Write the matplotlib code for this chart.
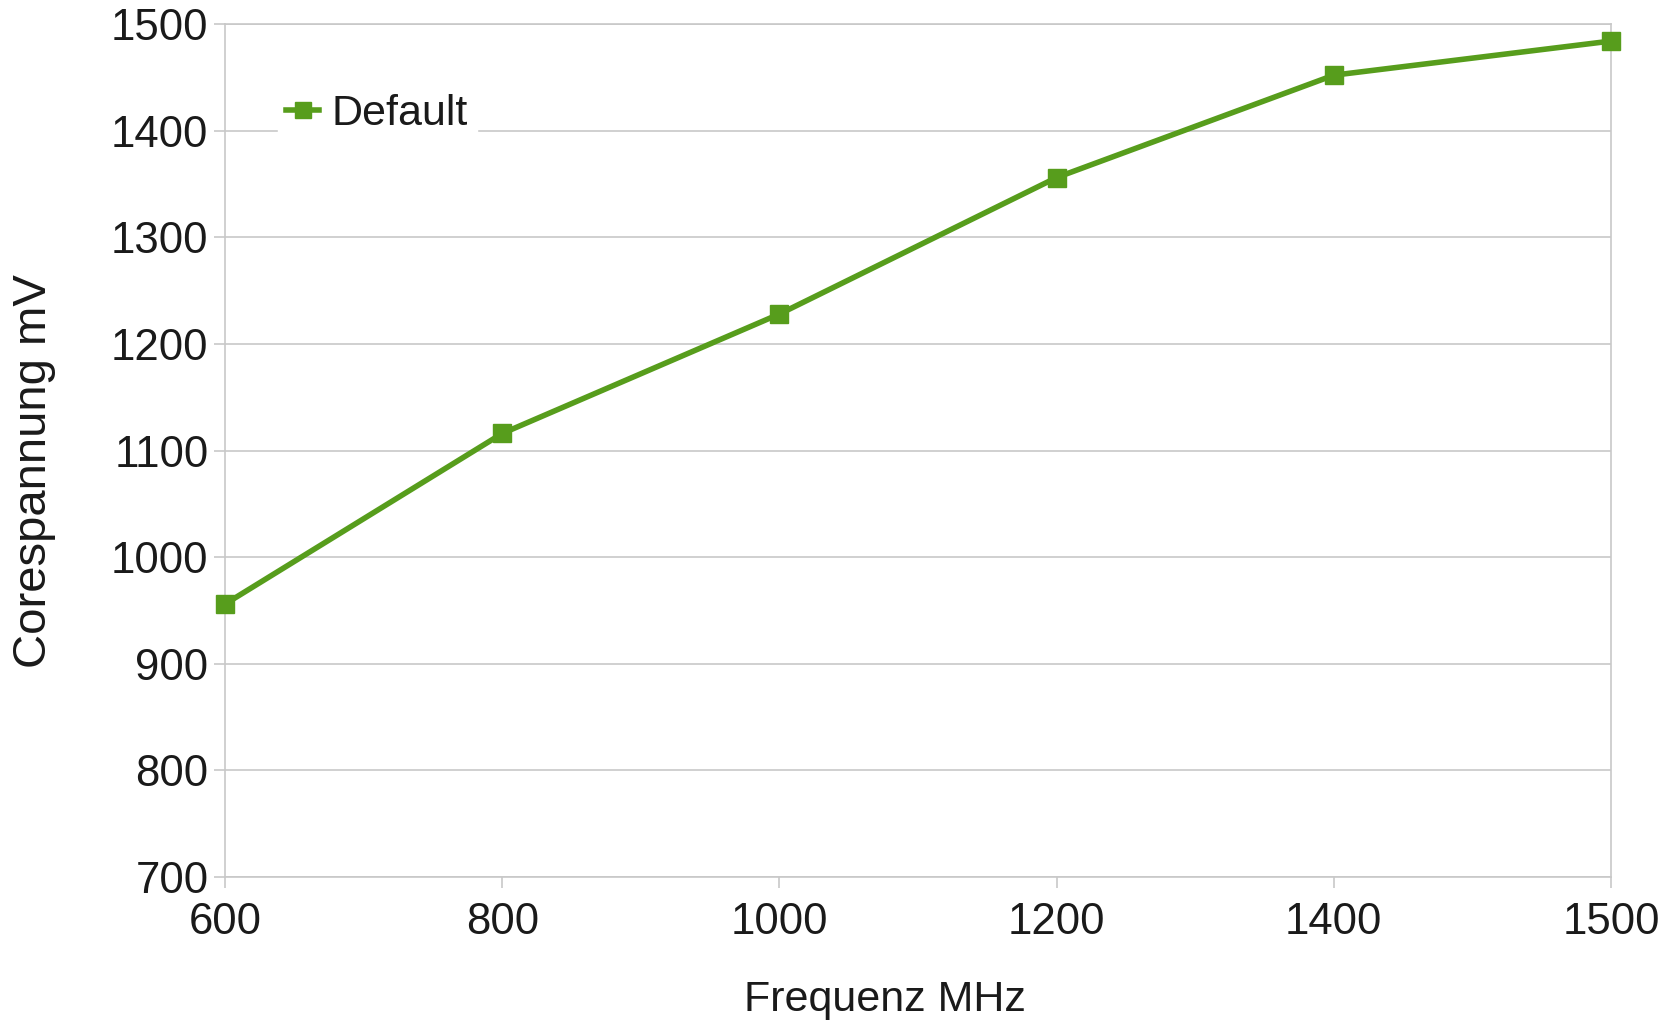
import matplotlib.pyplot as plt

# -----------------------------
# Data
# -----------------------------
freq_labels = ["600", "800", "1000", "1200", "1400", "1500"]
core_mv = [956, 1116, 1228, 1356, 1452, 1484]
series_name = "Default"

green = "#579d1c"
grid_grey = "#c8c8c8"
text_col = "#1a1a1a"

plt.rcParams['font.family'] = ['Liberation Sans', 'DejaVu Sans']

fig = plt.figure(figsize=(16.72, 10.26), dpi=100)
ax = fig.add_axes([0.1346, 0.1452, 0.9635 - 0.1346, 0.9766 - 0.1452])

x = list(range(len(freq_labels)))
ax.plot(x, core_mv, color=green, linewidth=4.0, marker="s", markersize=13,
        label=series_name, zorder=3, clip_on=False)

ax.set_xlim(0, len(freq_labels) - 1)
ax.set_ylim(700, 1500)
ax.set_xticks(x)
ax.set_xticklabels(freq_labels)
ax.set_yticks(range(700, 1501, 100))

ax.grid(axis="y", color=grid_grey, linewidth=1.2)
ax.set_axisbelow(True)
for s in ax.spines.values():
    s.set_color(grid_grey)
    s.set_linewidth(1.2)

ax.tick_params(axis="both", colors=grid_grey, labelcolor=text_col,
               labelsize=31.5, length=8, width=1.2, direction="out")
ax.tick_params(axis="x", pad=10)
ax.tick_params(axis="y", pad=4)

# axis titles placed where the reference has them
fig.text(0.5293, 0.0249, "Frequenz MHz", fontsize=31, color=text_col,
         ha="center", va="center")
fig.text(0.0204, 0.5405, "Corespannung mV", fontsize=34, color=text_col,
         ha="center", va="center", rotation=90)

leg = ax.legend(loc="upper left", bbox_to_anchor=(0.0225, 0.953), fontsize=31,
                frameon=True, fancybox=False, handlelength=0.75,
                handletextpad=0.3, borderpad=0.2, markerscale=0.9)
leg.get_frame().set_edgecolor("white")
leg.get_frame().set_facecolor("white")
leg.get_frame().set_alpha(1)
for t in leg.get_texts():
    t.set_color(text_col)

fig.savefig("out.png", dpi=100)
